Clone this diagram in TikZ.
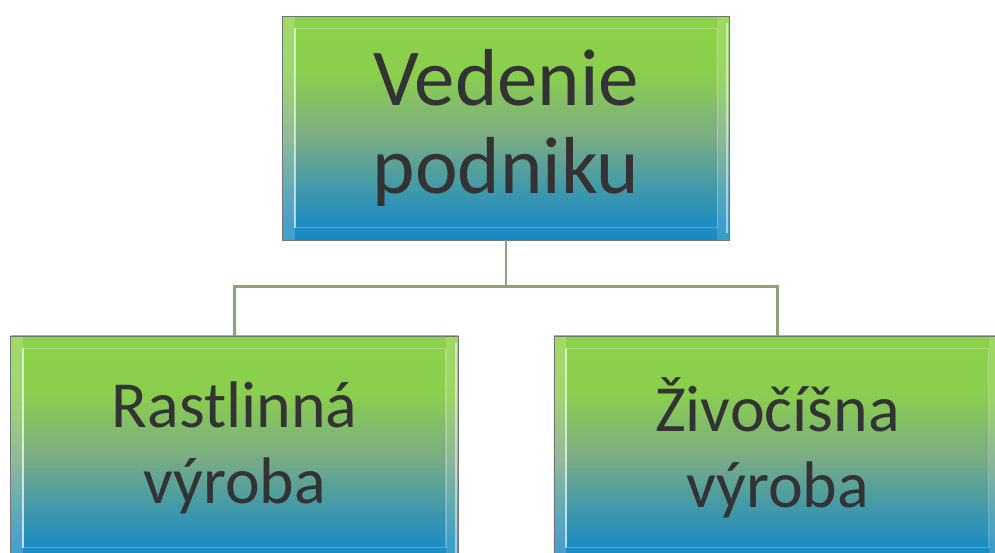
\documentclass[tikz,border=0pt]{standalone}
\usepackage{fontspec}
\setmainfont{Carlito}
\definecolor{topgreen}{RGB}{140,210,72}
\definecolor{midteal}{RGB}{122,172,132}
\definecolor{botblue}{RGB}{22,138,198}
\definecolor{linkgreen}{RGB}{138,164,118}
\pgfdeclareverticalshading{boxshade}{100bp}{color(0bp)=(botblue); color(25bp)=(botblue);
  color(29bp)=(botblue!90!midteal); color(37bp)=(botblue!55!midteal); color(48bp)=(midteal);
  color(62bp)=(topgreen!90!midteal); color(75bp)=(topgreen); color(100bp)=(topgreen)}
\begin{document}
\begin{tikzpicture}[x=0.02cm,y=0.02cm,
    box/.style={rectangle,draw=black!55,line width=0.5pt,
      shading=boxshade,
      text=black!80,align=center,inner sep=0pt,
      minimum width=8.95cm,minimum height=4.48cm,
      path picture={
        \fill[white,opacity=0.18] (path picture bounding box.north west)
          rectangle ([xshift=7pt]path picture bounding box.south west);
        \fill[white,opacity=0.15] (path picture bounding box.north east)
          rectangle ([xshift=-7pt]path picture bounding box.south east);
        \draw[white,opacity=0.6,line width=1.2pt]
          ([xshift=7pt,yshift=-7pt]path picture bounding box.north west)
          -- ([xshift=7pt,yshift=7pt]path picture bounding box.south west);
        \draw[white,opacity=0.5,line width=1.2pt]
          ([xshift=-1.5pt,yshift=-4pt]path picture bounding box.north east)
          -- ([xshift=-1.5pt,yshift=4pt]path picture bounding box.south east);
        \draw[white,opacity=0.25,line width=0.8pt]
          ([xshift=7pt,yshift=-7pt]path picture bounding box.north west)
          rectangle ([xshift=-7pt,yshift=7pt]path picture bounding box.south east);
      }},
    level distance=6.4cm,sibling distance=10.86cm,
    edge from parent/.style={draw=linkgreen,line width=1.6pt},
    edge from parent path={(\tikzparentnode.south) -- ++(0,-0.92cm) -| (\tikzchildnode.north)}]
  \clip (0,0) rectangle (995,-553);
  \node[box,font=\fontsize{46}{50}\selectfont] (vedenie) at (506,-128) {Vedenie\\podniku}
    child{
      node[box,font=\fontsize{37.5}{43}\selectfont] (rastlinna) {Rastlinná\\výroba}
    }
    child{
      node[box,minimum width=8.94cm,font=\fontsize{37.5}{43}\selectfont] (zivocisna) {Živočíšna\\výroba}
    };
\end{tikzpicture}
\end{document}
